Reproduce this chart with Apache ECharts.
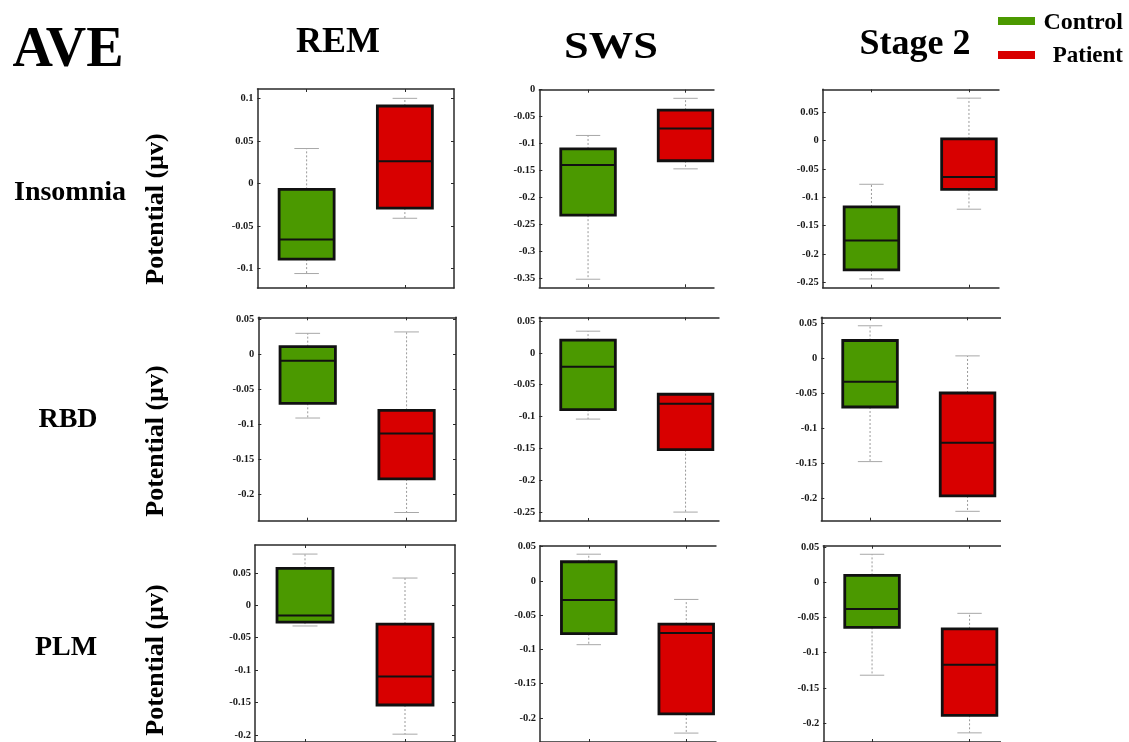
<!DOCTYPE html>
<html>
<head>
<meta charset="utf-8">
<script src="https://cdn.jsdelivr.net/npm/echarts@6/dist/echarts.min.js"></script>
<style>
  html, body { margin: 0; padding: 0; background: #fff; }
  #chart { width: 1129px; height: 742px; }
</style>
</head>
<body>
<div id="chart"></div>
<script>
// Groups and panel labels
const categories = ['Control', 'Patient'];
const disorders = ['Insomnia', 'RBD', 'PLM'];
const stages = ['REM', 'SWS', 'Stage 2'];

// Box statistics per group: [min, Q1, median, Q3, max] in µV
const insomniaRemControl = [-0.106, -0.089, -0.066, -0.007, 0.041];
const insomniaRemPatient = [-0.041, -0.029, 0.026, 0.091, 0.100];
const insomniaSwsControl = [-0.352, -0.233, -0.140, -0.110, -0.085];
const insomniaSwsPatient = [-0.147, -0.132, -0.072, -0.038, -0.016];
const insomniaS2Control = [-0.244, -0.228, -0.176, -0.117, -0.077];
const insomniaS2Patient = [-0.121, -0.086, -0.064, 0.003, 0.075];

const rbdRemControl = [-0.091, -0.070, -0.009, 0.011, 0.030];
const rbdRemPatient = [-0.226, -0.178, -0.113, -0.080, 0.032];
const rbdSwsControl = [-0.104, -0.089, -0.022, 0.020, 0.034];
const rbdSwsPatient = [-0.250, -0.152, -0.080, -0.065, -0.065];
const rbdS2Control = [-0.147, -0.069, -0.033, 0.026, 0.047];
const rbdS2Patient = [-0.218, -0.196, -0.120, -0.049, 0.004];

const plmRemControl = [-0.032, -0.026, -0.016, 0.057, 0.079];
const plmRemPatient = [-0.199, -0.154, -0.110, -0.029, 0.042];
const plmSwsControl = [-0.093, -0.077, -0.028, 0.028, 0.039];
const plmSwsPatient = [-0.222, -0.194, -0.076, -0.063, -0.027];
const plmS2Control = [-0.132, -0.064, -0.038, 0.010, 0.040];
const plmS2Patient = [-0.214, -0.189, -0.117, -0.066, -0.044];

// Y-axis tick labels per panel
const ticksInsomniaRem = [0.1, 0.05, 0, -0.05, -0.1];
const ticksInsomniaSws = [0, -0.05, -0.1, -0.15, -0.2, -0.25, -0.3, -0.35];
const ticksInsomniaS2 = [0.05, 0, -0.05, -0.1, -0.15, -0.2, -0.25];
const ticksRbdRem = [0.05, 0, -0.05, -0.1, -0.15, -0.2];
const ticksRbdSws = [0.05, 0, -0.05, -0.1, -0.15, -0.2, -0.25];
const ticksRbdS2 = [0.05, 0, -0.05, -0.1, -0.15, -0.2];
const ticksPlmRem = [0.05, 0, -0.05, -0.1, -0.15, -0.2];
const ticksPlmSws = [0.05, 0, -0.05, -0.1, -0.15, -0.2];
const ticksPlmS2 = [0.05, 0, -0.05, -0.1, -0.15, -0.2];

// Y-axis extents per panel [min, max]
const rangeInsomniaRem = [-0.123, 0.111];
const rangeInsomniaSws = [-0.367, 0];
const rangeInsomniaS2 = [-0.2595, 0.0906];
const rangeRbdRem = [-0.2377, 0.0529];
const rangeRbdSws = [-0.264, 0.0558];
const rangeRbdS2 = [-0.2314, 0.0591];
const rangePlmRem = [-0.2111, 0.093];
const rangePlmSws = [-0.235, 0.0514];
const rangePlmS2 = [-0.227, 0.0522];

const panels = [
  { c: insomniaRemControl, p: insomniaRemPatient, ticks: ticksInsomniaRem, range: rangeInsomniaRem },
  { c: insomniaSwsControl, p: insomniaSwsPatient, ticks: ticksInsomniaSws, range: rangeInsomniaSws },
  { c: insomniaS2Control, p: insomniaS2Patient, ticks: ticksInsomniaS2, range: rangeInsomniaS2 },
  { c: rbdRemControl, p: rbdRemPatient, ticks: ticksRbdRem, range: rangeRbdRem },
  { c: rbdSwsControl, p: rbdSwsPatient, ticks: ticksRbdSws, range: rangeRbdSws },
  { c: rbdS2Control, p: rbdS2Patient, ticks: ticksRbdS2, range: rangeRbdS2 },
  { c: plmRemControl, p: plmRemPatient, ticks: ticksPlmRem, range: rangePlmRem },
  { c: plmSwsControl, p: plmSwsPatient, ticks: ticksPlmSws, range: rangePlmSws },
  { c: plmS2Control, p: plmS2Patient, ticks: ticksPlmS2, range: rangePlmS2 }
];

// Layout of the nine plot frames (pixels) and where each panel is trimmed on the right
const frames = [
  { left: 257.5, top: 89, width: 196.5, height: 199, trim: null },
  { left: 539.3, top: 89.7, width: 195, height: 197.6, trim: 714.5 },
  { left: 822.7, top: 89.3, width: 195, height: 198.4, trim: 999.5 },
  { left: 258.3, top: 317.3, width: 197.7, height: 203.4, trim: null },
  { left: 539.3, top: 317.3, width: 195, height: 203.7, trim: 719.5 },
  { left: 821.3, top: 317.3, width: 195, height: 203.4, trim: 1001 },
  { left: 255, top: 545, width: 200, height: 200, trim: null },
  { left: 540, top: 545.7, width: 195, height: 199.3, trim: 716.5 },
  { left: 823.3, top: 545.7, width: 195, height: 199.3, trim: 1001 }
];

const fills = ['#4b9900', '#d80000'];
const frameColor = '#2a2a2a';
const serif = '"Liberation Serif", "DejaVu Serif", serif';

function renderBox(params, api) {
  const cat = api.value(0);
  const lo = api.coord([cat, api.value(1)]);
  const q1 = api.coord([cat, api.value(2)]);
  const md = api.coord([cat, api.value(3)]);
  const q3 = api.coord([cat, api.value(4)]);
  const hi = api.coord([cat, api.value(5)]);
  const band = api.size([1, 0])[0];
  const bw = band * 0.56;
  const cw = band * 0.25;
  const x = lo[0];
  const whisker = { stroke: '#9a9a9a', lineWidth: 1, lineDash: [2, 2] };
  const cap = { stroke: '#a8a8a8', lineWidth: 1 };
  return {
    type: 'group',
    children: [
      { type: 'line', shape: { x1: x, y1: q3[1], x2: x, y2: hi[1] }, style: whisker },
      { type: 'line', shape: { x1: x, y1: q1[1], x2: x, y2: lo[1] }, style: whisker },
      { type: 'line', shape: { x1: x - cw / 2, y1: hi[1], x2: x + cw / 2, y2: hi[1] }, style: cap },
      { type: 'line', shape: { x1: x - cw / 2, y1: lo[1], x2: x + cw / 2, y2: lo[1] }, style: cap },
      { type: 'rect', shape: { x: x - bw / 2, y: q3[1], width: bw, height: q1[1] - q3[1] },
        style: { fill: fills[cat], stroke: '#111', lineWidth: 2.8 } },
      { type: 'line', shape: { x1: x - bw / 2, y1: md[1], x2: x + bw / 2, y2: md[1] },
        style: { stroke: '#111', lineWidth: 2 } }
    ]
  };
}

const grid = [], xAxis = [], yAxis = [], series = [];
panels.forEach((pn, i) => {
  const f = frames[i];
  grid.push({ left: f.left, top: f.top, width: f.width, height: f.height, containLabel: false });
  ['bottom', 'top'].forEach(pos => {
    xAxis.push({
      type: 'category', gridIndex: i, position: pos, data: categories,
      axisLine: { show: true, onZero: false, lineStyle: { color: frameColor, width: 1.5 } },
      axisTick: { show: true, inside: true, length: 3, alignWithLabel: true, lineStyle: { color: frameColor } },
      axisLabel: { show: false }, splitLine: { show: false }
    });
  });
  ['left', 'right'].forEach(pos => {
    yAxis.push({
      type: 'value', gridIndex: i, position: pos, min: pn.range[0], max: pn.range[1],
      axisLine: { show: true, onZero: false, lineStyle: { color: frameColor, width: 1.5 } },
      axisTick: { show: true, inside: true, length: 3, customValues: pn.ticks, lineStyle: { color: frameColor } },
      axisLabel: pos === 'left' ? {
        show: true, customValues: pn.ticks, margin: 4,
        fontFamily: serif, fontWeight: 'bold', fontSize: 10.5, color: '#1a1a1a',
        formatter: v => String(Math.round(v * 1000) / 1000)
      } : { show: false },
      splitLine: { show: false }
    });
  });
  series.push({
    type: 'custom', xAxisIndex: i * 2, yAxisIndex: i * 2, clip: false,
    renderItem: renderBox,
    encode: { x: 0, y: [1, 2, 3, 4, 5] },
    data: [[0].concat(pn.c), [1].concat(pn.p)]
  });
});

// Headings, row labels, axis titles and legend
const graphic = [];
frames.forEach((f, i) => {
  if (f.trim !== null) {
    graphic.push({ type: 'rect', z: 100, silent: true,
      shape: { x: f.trim, y: f.top - 6, width: (i % 3 === 2 ? 140 : 45), height: f.height + 14 },
      style: { fill: '#fff' } });
  }
});
graphic.push({ type: 'text', z: 110, x: 68, y: 52,
  style: { text: 'AVE', font: 'bold 56px ' + serif, fill: '#000', align: 'center', verticalAlign: 'middle' } });
const stageX = [338, 611, 915];
const stageY = [43, 48, 45];
const stageSize = [36, 37, 36];
const stageStretch = [1, 1.2, 1];
stages.forEach((s, k) => graphic.push({ type: 'text', z: 110, x: stageX[k], y: stageY[k],
  scaleX: stageStretch[k],
  style: { text: s, font: 'bold ' + stageSize[k] + 'px ' + serif, fill: '#000', align: 'center', verticalAlign: 'middle' } }));
const rowY = [193, 420, 648];
const rowX = [70, 68, 66];
const potentialY = [209, 441, 660];
disorders.forEach((d, k) => {
  graphic.push({ type: 'text', z: 110, x: rowX[k], y: rowY[k],
    style: { text: d, font: 'bold 28px ' + serif, fill: '#000', align: 'center', verticalAlign: 'middle' } });
  graphic.push({ type: 'text', z: 110, x: 156, y: potentialY[k], rotation: Math.PI / 2,
    style: { text: 'Potential (µv)', font: 'bold 26px ' + serif, fill: '#000', align: 'center', verticalAlign: 'middle' } });
});
categories.forEach((c, k) => {
  graphic.push({ type: 'rect', z: 110, shape: { x: 998, y: 17 + k * 34, width: 37, height: 8 },
    style: { fill: fills[k] } });
  graphic.push({ type: 'text', z: 110, x: 1123, y: 23 + k * 33,
    style: { text: c, font: 'bold ' + (k === 0 ? 24 : 23) + 'px ' + serif, fill: '#000', align: 'right', verticalAlign: 'middle' } });
});

const chart = echarts.init(document.getElementById('chart'), null, { renderer: 'canvas' });
chart.setOption({
  animation: false,
  backgroundColor: '#fff',
  grid, xAxis, yAxis, series, graphic
});
</script>
</body>
</html>
